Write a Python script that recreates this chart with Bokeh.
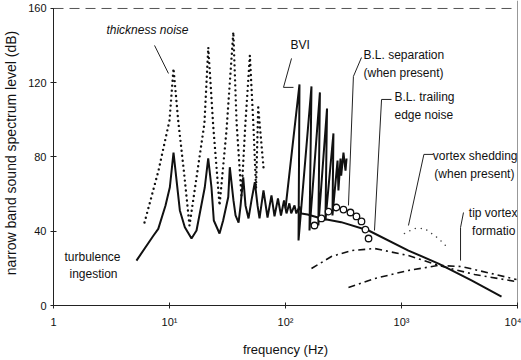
from bokeh.plotting import figure
from bokeh.models import FixedTicker, Span, Label
from bokeh.embed import file_html
from bokeh.resources import INLINE

# ---- data (frequency in Hz, level in dB) ----
x_ticks = [1, 10, 100, 1000, 10000]
x_tick_labels = ["1", "10\u00b9", "10\u00b2", "10\u00b3", "10\u2074"]
y_ticks = [0, 40, 80, 120, 160]

# turbulence ingestion + harmonics + broadband (solid)
solid_f = [5.19, 7.28, 8.0, 9.24, 10.07, 10.83, 12.28, 13.56, 15.48, 17.1,
           20.15, 21.56, 23.0, 24.1, 27.0, 29.0, 32.1, 33.1, 35.6, 37.1,
           39.4, 41.0, 43.2, 45.2, 48.0, 50.9, 54.4, 57.4, 59.7, 64.6,
           70.0, 75.7, 80.4, 86.1, 91.4, 97.1, 102, 108, 112, 119.6,
           124, 132, 137, 155, 204, 302, 520, 1148, 2084, 4012, 7280]
solid_db = [24.2, 37.7, 41.3, 53.9, 63.7, 82.4, 51.2, 42.2, 36.1, 40.4,
            63.7, 79.2, 63.7, 45.8, 38.8, 45.8, 58.4, 74.5, 56.6, 48.5,
            44.7, 53.9, 69.1, 53.9, 46.9, 56.6, 66.4, 53.9, 46.9, 62.0,
            47.4, 59.3, 48.0, 57.7, 48.5, 56.6, 49.6, 55.0, 49.6, 53.9,
            49.6, 53.3, 49.6, 49.0, 46.9, 44.9, 40.4, 29.6, 22.6, 13.5, 4.8]

# BVI (solid sawtooth)
bvi_f = [100, 132, 129.5, 167.5, 161, 198, 192, 228, 221, 259, 254, 281, 286, 298, 302, 316, 329, 336]
bvi_db = [52.3, 119.1, 35.0, 118.0, 40.4, 114.8, 43.1, 106.1, 45.8, 92.7, 48.5, 78.1, 62.0, 79.2, 70.0, 82.4, 72.7, 79.2]

# thickness noise (dotted)
thick_f = [6.09, 8.04, 10.0, 10.83, 11.88, 13.34, 14.87, 16.0, 20.0, 21.6, 23.8,
           27.0, 31.0, 35.5, 37.9, 41.7, 45.0, 49.3, 52.9, 55.7, 58.2, 64.6]
thick_db = [44.7, 72.7, 99.7, 127.7, 99.7, 71.7, 43.1, 56.6, 98.1, 139.0, 97.0,
            53.9, 94.3, 147.3, 98.1, 59.3, 97.0, 134.7, 97.0, 63.0, 106.7, 74.4]

# B.L. trailing edge noise (open circles)
circ_f = [177.8, 204, 235, 275, 316, 363, 409, 452, 489, 520]
circ_db = [43.1, 46.9, 50.6, 52.8, 51.7, 50.1, 48.0, 45.3, 40.9, 36.1]

# vortex shedding (fine dots)
vs_f = [1061, 1295, 1579, 2084, 2541]
vs_db = [38.8, 41.5, 41.5, 36.1, 30.7]

# dash-dot curves
a_f = [167.5, 249, 371, 585, 1148, 2084, 4256, 9800]
a_db = [19.9, 26.4, 29.6, 30.7, 26.9, 21.6, 16.7, 12.9]
b_f = [349, 585, 1148, 2084, 3290, 5970, 9800]
b_db = [9.7, 14.5, 18.9, 21.6, 21.0, 17.2, 14.0]

FONT = "Liberation Sans"
INK = "#111111"

p = figure(width=521, height=360, x_axis_type="log",
           x_range=(1, 10000), y_range=(0, 164.3),
           output_backend="svg", toolbar_location=None,
           min_border_left=52, min_border_right=4,
           min_border_top=0, min_border_bottom=55)
p.xgrid.visible = False
p.ygrid.visible = False
p.outline_line_color = None
p.background_fill_color = "white"

for ax in (p.xaxis[0], p.yaxis[0]):
    ax.major_tick_in = 3
    ax.major_tick_out = 3
    ax.minor_tick_line_color = None
    ax.axis_line_color = "#222222"
    ax.major_tick_line_color = "#222222"
    ax.major_label_text_font = FONT
    ax.major_label_text_font_size = "11px"
    ax.major_label_text_color = INK
    ax.axis_label_text_font = FONT
    ax.axis_label_text_font_style = "normal"
    ax.axis_label_text_color = INK

p.xaxis.ticker = FixedTicker(ticks=x_ticks)
p.xaxis.major_label_overrides = {t: s for t, s in zip(x_ticks, x_tick_labels)}
p.xaxis.bounds = (1, 10000)
p.xaxis.major_label_standoff = 7
p.xaxis.axis_label = "frequency (Hz)"
p.xaxis.axis_label_standoff = 11
p.xaxis.axis_label_text_font_size = "13px"

p.yaxis.ticker = FixedTicker(ticks=y_ticks)
p.yaxis.bounds = (0, 160)
p.yaxis.major_label_standoff = 4
p.yaxis.axis_label = "narrow band sound spectrum level (dB)"
p.yaxis.axis_label_standoff = 6
p.yaxis.axis_label_text_font_size = "14px"

# frame borders (top dashed, right solid)
p.add_layout(Span(location=160, dimension="width", line_color="#555555",
                  line_width=1, line_dash="10 6"))
p.add_layout(Span(location=10000, dimension="height", line_color="#333333",
                  line_width=1))

# curves
p.line(thick_f, thick_db, line_color=INK, line_width=2.4, line_dash="0 5", line_cap="round")
p.line(solid_f, solid_db, line_color=INK, line_width=2)
p.line(bvi_f, bvi_db, line_color=INK, line_width=2)
p.line(vs_f, vs_db, line_color="#444444", line_width=1.6, line_dash="0 6", line_cap="round")
p.line(a_f, a_db, line_color=INK, line_width=1.6, line_dash="7 4 2 4")
p.line(b_f, b_db, line_color=INK, line_width=1.6, line_dash="7 4 2 4")
p.scatter(circ_f, circ_db, marker="circle", size=6.5, fill_color="white",
          line_color=INK, line_width=1.3)

# leader lines
leaders = [
    ([7.43, 9.80], [140.1, 125.0]),
    ([112.7, 96.1, 117.2], [133.1, 117.5, 117.5]),
    ([452, 385, 349], [133.6, 123.4, 53.9]),
    ([820, 673, 585], [111.0, 111.0, 40.4]),
    ([1880, 1560, 1148], [81.4, 81.4, 43.1]),
    ([3423, 3228, 3228], [50.1, 42.0, 24.2]),
]
for lx, ly in leaders:
    p.line(lx, ly, line_color="#222222", line_width=1)

texts = [
    (2.86, 148.2, "thickness noise", "italic", "left"),
    (110.5, 140.1, "BVI", "normal", "left"),
    (470, 135.2, "B.L. separation", "normal", "left"),
    (470, 125.0, "(when present)", "normal", "left"),
    (870, 112.1, "B.L. trailing", "normal", "left"),
    (870, 102.4, "edge noise", "normal", "left"),
    (10000, 80.8, "vortex shedding", "normal", "right"),
    (9400, 70.6, "(when present)", "normal", "right"),
    (10000, 49.6, "tip vortex", "normal", "right"),
    (9600, 40.4, "formatio", "normal", "right"),
    (1.244, 25.9, "turbulence", "normal", "left"),
    (1.374, 17.2, "ingestion", "normal", "left"),
]
for tx, ty, s, st, al in texts:
    p.add_layout(Label(x=tx, y=ty, text=s, text_font=FONT, text_font_size="12px",
                       text_font_style=st, text_color=INK,
                       text_align=al, text_baseline="middle"))

open("out.html", "w").write(file_html(p, INLINE))
